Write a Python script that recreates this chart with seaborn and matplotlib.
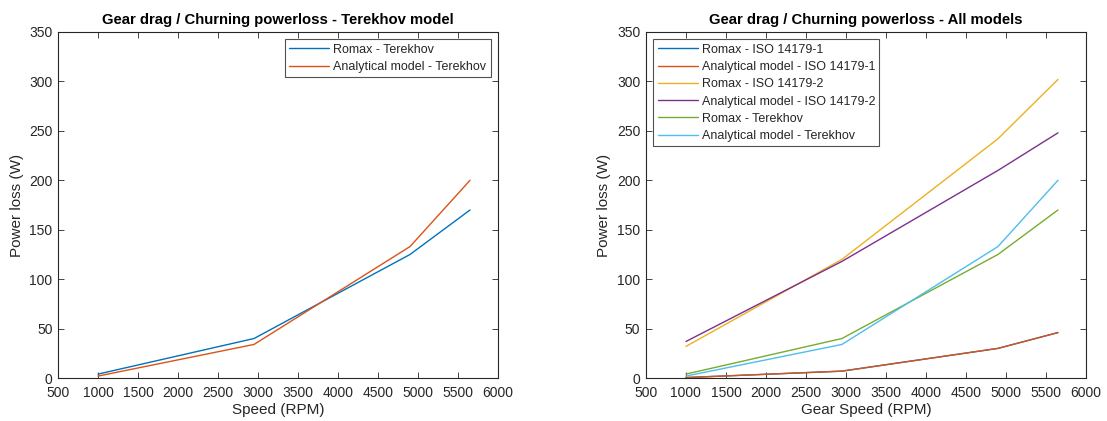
import matplotlib
matplotlib.use("Agg")
import matplotlib.pyplot as plt
import seaborn as sns
import pandas as pd

speed = [1000, 2950, 4900, 5650]
romax_iso1 = [0.5, 7, 30, 46]
anal_iso1 = [0.5, 7, 30, 46]
romax_iso2 = [32, 120, 242, 302]
anal_iso2 = [37, 118, 210, 248]
romax_ter = [4, 40, 125, 170]
anal_ter = [2, 34, 133, 200]

labels_all = ["Romax - ISO 14179-1", "Analytical model - ISO 14179-1",
              "Romax - ISO 14179-2", "Analytical model - ISO 14179-2",
              "Romax - Terekhov", "Analytical model - Terekhov"]
series_all = [romax_iso1, anal_iso1, romax_iso2, anal_iso2, romax_ter, anal_ter]
colors = ["#0072BD", "#D95319", "#EDB120", "#7E2F8E", "#77AC30", "#4DBEEE"]

sns.set_style("white")
plt.rcParams['font.family'] = ['Liberation Sans', 'DejaVu Sans']
plt.rcParams['text.color'] = '#262626'
plt.rcParams['axes.labelcolor'] = '#262626'
plt.rcParams['xtick.color'] = '#262626'
plt.rcParams['ytick.color'] = '#262626'

rows = []
for lab, vals in zip(labels_all, series_all):
    for s, v in zip(speed, vals):
        rows.append({"speed": s, "power": v, "series": lab})
df_all = pd.DataFrame(rows)

df_left = pd.DataFrame(
    [{"speed": s, "power": v, "series": "Romax - Terekhov"} for s, v in zip(speed, romax_ter)] +
    [{"speed": s, "power": v, "series": "Analytical model - Terekhov"} for s, v in zip(speed, anal_ter)]
)

fig = plt.figure(figsize=(11.07, 4.21), dpi=100)
ax1 = fig.add_axes([0.0524, 0.102, 0.3975, 0.822])
ax2 = fig.add_axes([0.5835, 0.102, 0.3975, 0.822])

sns.lineplot(data=df_left, x="speed", y="power", hue="series",
             palette=colors[:2], ax=ax1, linewidth=1.0, sort=False)
sns.lineplot(data=df_all, x="speed", y="power", hue="series",
             palette=colors, ax=ax2, linewidth=1.0, sort=False)

for ax, title, xlabel in [(ax1, "Gear drag / Churning powerloss - Terekhov model", "Speed (RPM)"),
                          (ax2, "Gear drag / Churning powerloss - All models", "Gear Speed (RPM)")]:
    ax.set_xlim(500, 6000)
    ax.set_ylim(0, 350)
    ax.set_xticks(range(500, 6001, 500))
    ax.set_yticks(range(0, 351, 50))
    ax.set_title(title, fontsize=10.7, fontweight="bold", color="black", pad=6)
    ax.set_xlabel(xlabel, fontsize=11, labelpad=2)
    ax.set_ylabel("Power loss (W)", fontsize=11)
    ax.tick_params(axis="x", pad=6)
    ax.tick_params(axis="y", pad=4)
    ax.tick_params(axis="both", labelsize=10, direction="in", length=4, width=0.6,
                   top=True, right=True, bottom=True, left=True)
    for sp in ax.spines.values():
        sp.set_color("#262626")
        sp.set_linewidth(0.8)

leg_kw = dict(fontsize=9, frameon=True, fancybox=False, edgecolor="#262626",
              handlelength=3.2, labelspacing=0.42, borderpad=0.35, handletextpad=0.3)
leg1 = ax1.legend(loc="upper right", borderaxespad=0.6, **leg_kw)
leg1.get_frame().set_linewidth(0.8)
leg2 = ax2.legend(loc="upper left", borderaxespad=0.6, **leg_kw)
leg2.get_frame().set_linewidth(0.8)

fig.savefig("out.png", dpi=100)
